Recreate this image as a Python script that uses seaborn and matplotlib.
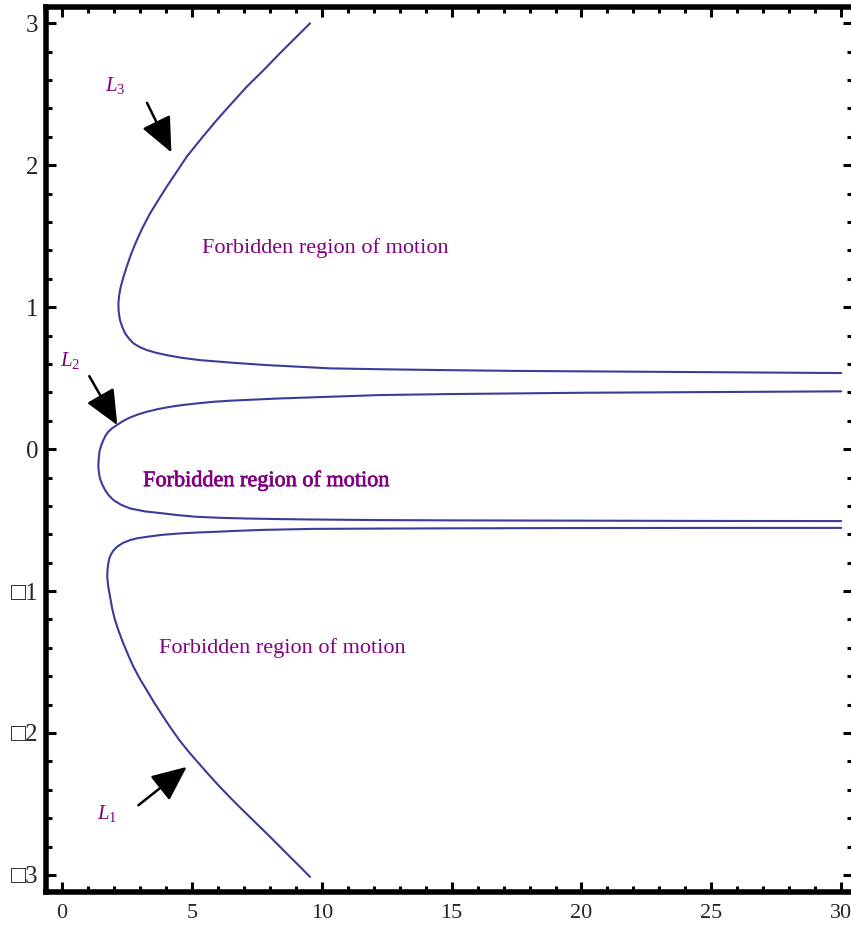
import matplotlib
matplotlib.use("Agg")
import matplotlib.pyplot as plt
import matplotlib.patheffects as pe
from matplotlib.ticker import MultipleLocator
import pandas as pd
import seaborn as sns

# Zero-velocity curves L1, L2, L3 in the (x, y) plane
l3_x = [9.55, 9.00, 8.39, 7.76, 7.11, 6.53, 5.96, 5.37, 4.80, 4.40, 4.03, 3.69, 3.39, 3.12,
        2.88, 2.67, 2.49, 2.36, 2.26, 2.20, 2.17, 2.18, 2.23, 2.32, 2.43, 2.58, 2.75, 2.98,
        3.26, 3.62, 4.03, 4.62, 5.31, 6.60, 7.88, 9.16, 10.32, 12.5, 15.0, 17.5, 20.0, 25.0, 30.0]
l3_y = [3.000, 2.900, 2.789, 2.670, 2.553, 2.436, 2.319, 2.190, 2.060, 1.950, 1.849, 1.750, 1.661, 1.567,
        1.473, 1.380, 1.285, 1.210, 1.144, 1.085, 1.027, 0.968, 0.909, 0.860, 0.815, 0.778, 0.745, 0.720,
        0.698, 0.679, 0.662, 0.643, 0.627, 0.608, 0.592, 0.580, 0.569, 0.562, 0.556, 0.551, 0.548, 0.542, 0.536]

l2_x = [30.0, 25.0, 20.0, 15.0, 12.24, 10.32, 8.39, 7.40, 6.47, 5.80, 5.19, 4.65, 4.16, 3.69,
        3.26, 2.92, 2.62, 2.35, 2.11, 1.92, 1.78, 1.67, 1.59, 1.50, 1.44, 1.41, 1.40, 1.42,
        1.46, 1.55, 1.66, 1.80, 1.98, 2.27, 2.62, 3.20, 3.90, 4.50, 5.19, 6.10, 7.11, 8.40,
        9.68, 12.24, 15.0, 20.0, 25.0, 30.0]
l2_y = [0.407, 0.402, 0.397, 0.388, 0.381, 0.369, 0.357, 0.349, 0.341, 0.333, 0.322, 0.311, 0.298, 0.282,
        0.263, 0.244, 0.223, 0.198, 0.169, 0.146, 0.122, 0.094, 0.063, 0.022, -0.019, -0.070, -0.125, -0.167,
        -0.207, -0.250, -0.289, -0.326, -0.359, -0.392, -0.418, -0.439, -0.453, -0.466, -0.477, -0.484, -0.489, -0.493,
        -0.496, -0.500, -0.502, -0.504, -0.506, -0.507]

l1_x = [30.0, 25.0, 20.0, 15.0, 12.0, 9.68, 7.75, 6.70, 5.83, 5.15, 4.54, 3.85, 3.26, 2.90,
        2.62, 2.34, 2.11, 1.97, 1.87, 1.81, 1.78, 1.75, 1.74, 1.78, 1.85, 1.93, 2.04, 2.19,
        2.36, 2.55, 2.75, 2.99, 3.26, 3.55, 3.86, 4.18, 4.52, 4.88, 5.27, 5.67, 6.08, 6.51,
        6.96, 7.42, 7.88, 8.33, 8.78, 9.17, 9.55]
l1_y = [-0.555, -0.555, -0.556, -0.558, -0.560, -0.562, -0.569, -0.576, -0.583, -0.588, -0.594, -0.604, -0.618, -0.628,
        -0.641, -0.661, -0.689, -0.716, -0.747, -0.776, -0.806, -0.853, -0.900, -0.970, -1.041, -1.123, -1.205, -1.287,
        -1.369, -1.452, -1.534, -1.616, -1.698, -1.787, -1.875, -1.963, -2.051, -2.133, -2.215, -2.298, -2.380, -2.462,
        -2.544, -2.626, -2.708, -2.790, -2.873, -2.943, -3.014]

x_ticks = [0, 5, 10, 15, 20, 25, 30]
x_tick_labels = ["0", "5", "10", "15", "20", "25", "30"]
y_ticks = [-3, -2, -1, 0, 1, 2, 3]
y_tick_labels = ["\u25a13", "\u25a12", "\u25a11", "0", "1", "2", "3"]

region_labels = ["Forbidden region of motion"] * 3
region_pos = [(10.13, 1.416), (7.87, -0.226), (8.49, -1.402)]

curve_names = ["$L_1$", "$L_2$", "$L_3$"]
curve_name_pos = [(1.73, -2.565), (0.31, 0.627), (2.04, 2.565)]
arrow_tails = [(2.94, -2.509), (1.05, 0.514), (3.27, 2.44)]
arrow_tips = [(4.80, -2.239), (2.13, 0.169), (4.21, 2.09)]

CURVE = "#3b3b98"
PURPLE = "#800080"

sns.set_style("ticks")
plt.rcParams["font.family"] = ["Liberation Serif", "DejaVu Serif"]
plt.rcParams["mathtext.fontset"] = "custom"
plt.rcParams["mathtext.rm"] = "Liberation Serif"
plt.rcParams["mathtext.it"] = "Liberation Serif:italic"

fig = plt.figure(figsize=(8.51, 9.30), dpi=100)
ax = fig.add_axes([0.0546, 0.0412, 0.9476, 0.9516])

for xs, ys in [(l1_x, l1_y), (l2_x, l2_y), (l3_x, l3_y)]:
    df = pd.DataFrame({"x": xs, "y": ys})
    sns.lineplot(data=df, x="x", y="y", sort=False, estimator=None,
                 color=CURVE, linewidth=1.5, ax=ax, legend=False)
for line in ax.get_lines():
    line.set_solid_joinstyle("round")

ax.set_xlim(-0.6, 30.45)
ax.set_ylim(-3.118, 3.117)
ax.set_xlabel("")
ax.set_ylabel("")

ax.set_xticks(x_ticks, x_tick_labels)
ax.set_yticks(y_ticks, y_tick_labels)
ax.xaxis.set_minor_locator(MultipleLocator(1))
ax.yaxis.set_minor_locator(MultipleLocator(0.2))
ax.tick_params(which="both", direction="in", top=True, right=True,
               width=2.2, color="black")
ax.tick_params(which="major", length=7.5)
ax.tick_params(which="minor", length=4.5)
ax.tick_params(axis="y", labelsize=18, pad=6)
ax.tick_params(axis="x", labelsize=16, pad=9)

for sp in ax.spines.values():
    sp.set_visible(True)
    sp.set_linewidth(4)
    sp.set_color("black")

for i, (txt, (tx, ty)) in enumerate(zip(region_labels, region_pos)):
    t = ax.text(tx, ty, txt, ha="center", va="center", color=PURPLE, fontsize=16)
    if i == 1:
        t.set_path_effects([pe.withStroke(linewidth=0.5, foreground=PURPLE)])

for name, (nx, ny) in zip(curve_names, curve_name_pos):
    ax.text(nx, ny, name, ha="center", va="center", color=PURPLE, fontsize=15)

for tail, tip in zip(arrow_tails, arrow_tips):
    ax.annotate("", xy=tip, xytext=tail,
                arrowprops=dict(arrowstyle="-|>,head_length=0.9,head_width=0.4",
                                mutation_scale=24, color="black", lw=1.8,
                                shrinkA=0, shrinkB=0))

fig.savefig("out.png", dpi=100)
